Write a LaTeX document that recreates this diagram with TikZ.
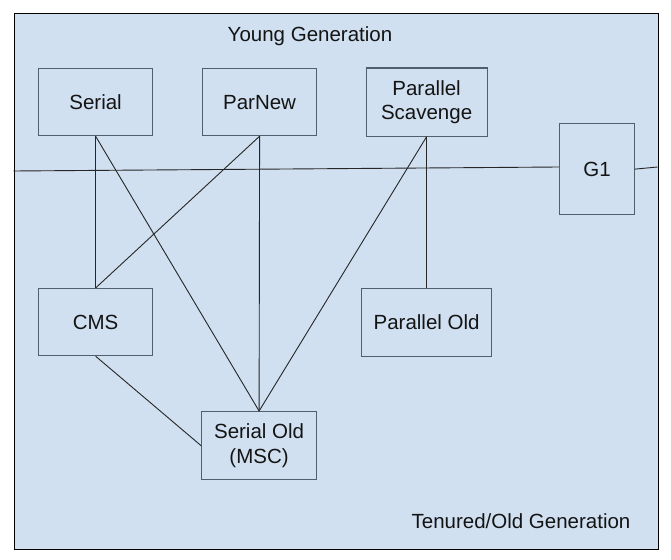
\documentclass[tikz,border=0pt]{standalone}
\usepackage{fontspec}
\setmainfont{Liberation Sans}
\definecolor{bgblue}{RGB}{208,224,240}
\definecolor{boxline}{RGB}{80,95,110}
\definecolor{txt}{RGB}{20,20,20}
\begin{document}
\begin{tikzpicture}[x=1pt,y=-1pt,
  gcbox/.style={draw=boxline,line width=1.2pt,fill=bgblue,inner sep=0pt,font=\fontsize{20.5}{24.5}\selectfont,text=txt,align=center},
  link/.style={draw=black!85,line width=0.9pt},
  lbl/.style={font=\fontsize{20.5}{24.5}\selectfont,text=txt,inner sep=0pt}]
\useasboundingbox (0,0) rectangle (671,559);
\fill[white] (0,0) rectangle (671,559);
\node[draw=black,line width=1.2pt,fill=bgblue,minimum width=644pt,minimum height=536pt,inner sep=0pt,anchor=north west] (bg) at (13.5,13) {};
\node[lbl] (young) at (310,36) {Young Generation};
\node[lbl] (tenured) at (521,521) {Tenured/Old Generation};
\coordinate (lineL) at (13.5,171);
\coordinate (lineR) at (657.5,167);
\draw[link] (lineL) -- (559,167);
\node[gcbox,minimum width=114pt,minimum height=67pt,anchor=north west] (serial) at (38,68) {Serial};
\node[gcbox,minimum width=114pt,minimum height=67pt,anchor=north west] (parnew) at (202,68) {ParNew};
\node[gcbox,minimum width=121pt,minimum height=68pt,anchor=north west] (pscav) at (365.5,67.5) {Parallel\\Scavenge};
\node[gcbox,minimum width=75pt,minimum height=91pt,anchor=north west] (g1) at (559,123) {G1};
\node[gcbox,minimum width=114pt,minimum height=67pt,anchor=north west] (cms) at (38,288) {CMS};
\node[gcbox,minimum width=130pt,minimum height=68pt,anchor=north west] (pold) at (361,288) {Parallel Old};
\node[gcbox,minimum width=115pt,minimum height=68pt,anchor=north west] (sold) at (201,411) {Serial Old\\(MSC)};
\draw[link] (g1.east) -- (lineR);
\draw[link] (serial.south) -- (cms.north);
\draw[link] (serial.south) -- (sold.north);
\draw[link] (parnew.south) -- (cms.north);
\draw[link] (parnew.south) -- (sold.north);
\draw[link] (pscav.south) -- (sold.north);
\draw[link] (pscav.south) -- (pold.north);
\draw[link] (cms.south) -- (sold.west);
\end{tikzpicture}
\end{document}
